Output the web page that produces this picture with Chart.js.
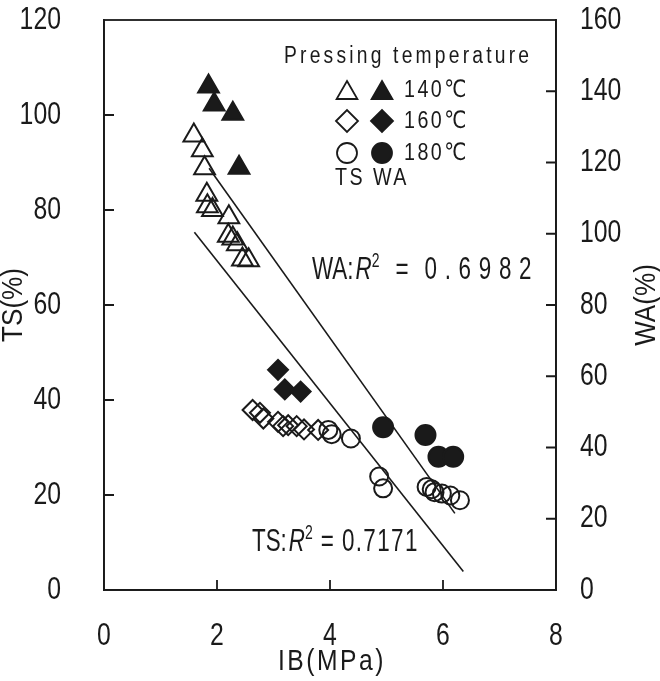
<!DOCTYPE html>
<html>
<head>
<meta charset="utf-8">
<script src="https://cdn.jsdelivr.net/npm/chart.js@4.4.0/dist/chart.umd.min.js"></script>
<style>
  html, body { margin: 0; padding: 0; background: #fff; }
</style>
</head>
<body>
<canvas id="chart_ib" width="660" height="681"></canvas>
<script>
// IB vs TS / WA scatter, three pressing temperatures

// 140°C
var tri_ts_ib = [1.59, 1.74, 1.78, 1.82, 1.83, 1.92, 2.21, 2.20, 2.28, 2.36, 2.45, 2.56];
var tri_ts    = [95.7, 92.6, 88.8, 83.2, 80.8, 80.0, 78.5, 74.6, 74.0, 72.8, 69.6, 69.4];
var tri_wa_ib = [1.85, 1.95, 2.28, 2.39];
var tri_wa    = [141.3, 136.3, 133.7, 118.5];

// 160°C
var dia_ts_ib = [2.63, 2.76, 2.82, 3.08, 3.17, 3.26, 3.41, 3.54, 3.79];
var dia_ts    = [37.9, 37.3, 36.1, 35.4, 34.5, 34.7, 34.5, 33.8, 33.7];
var dia_wa_ib = [3.08, 3.20, 3.48];
var dia_wa    = [61.8, 56.3, 55.7];

// 180°C
var cir_ts_ib = [3.97, 4.03, 4.37, 4.87, 4.94, 5.71, 5.80, 5.85, 5.98, 6.13, 6.30];
var cir_ts    = [33.7, 32.8, 31.9, 23.9, 21.4, 21.7, 21.2, 20.6, 20.3, 19.9, 18.9];
var cir_wa_ib = [4.94, 5.69, 5.92, 6.18];
var cir_wa    = [45.7, 43.5, 37.4, 37.4];

// regression line end points (IB, value)
var ts_fit_ib = [1.60, 6.36];
var ts_fit    = [75.3, 3.9];
var wa_fit_ib = [1.86, 6.21];
var wa_fit    = [118.4, 21.5];

var x_ticks  = [0, 2, 4, 6, 8];
var ts_ticks = [0, 20, 40, 60, 80, 100, 120];
var wa_ticks = [0, 20, 40, 60, 80, 100, 120, 140, 160];

var FONT = "'Liberation Sans', Arial, 'DejaVu Sans', sans-serif";
var INK = '#1a1a1a';

function pts(xs, ys) {
    return xs.map(function(v, i) { return { x: v, y: ys[i] }; });
}

function marker(label, xs, ys, axis, style, r, filled) {
    return {
        label: label,
        data: pts(xs, ys),
        yAxisID: axis,
        pointStyle: style,
        pointRadius: r,
        pointBorderWidth: 2,
        pointBorderColor: INK,
        pointBackgroundColor: filled ? INK : 'rgba(255,255,255,0)',
        showLine: false
    };
}

function fitLine(label, xs, ys, axis) {
    return {
        label: label,
        data: pts(xs, ys),
        yAxisID: axis,
        showLine: true,
        borderColor: INK,
        borderWidth: 1.6,
        pointRadius: 0,
        fill: false
    };
}

// keep the plot box fixed, no extra room for end labels
function fixBox(w, h) {
    return function(s) {
        if (w) s.width = w;
        if (h) s.height = h;
        s.paddingTop = 0; s.paddingBottom = 0;
        s.paddingLeft = 0; s.paddingRight = 0;
    };
}

// narrow text: glyphs squeezed horizontally, returns drawn width
function txt(ctx, s, x, y, o) {
    var sx = o.sx || 1;
    ctx.save();
    ctx.translate(x, y);
    if (o.rot) ctx.rotate(o.rot);
    ctx.scale(sx, 1);
    ctx.font = (o.style ? o.style + ' ' : '') + o.size + 'px ' + FONT;
    ctx.letterSpacing = (o.ls || 0) + 'px';
    ctx.textAlign = o.align || 'left';
    ctx.textBaseline = 'middle';
    ctx.fillText(s, 0, 0);
    var w = ctx.measureText(s).width * sx;
    ctx.restore();
    return w;
}

// "XX:R² = value" label, left edge at x
function drawR2(ctx, prefix, value, x, y, gap, ls) {
    var parts = [
        { s: prefix, size: 32, gap: 2 },
        { s: 'R', size: 32, style: 'italic', gap: 0 },
        { s: '2', size: 20, gap: gap, dy: -9 },
        { s: '=', size: 32, gap: gap },
        { s: value, size: 32, gap: 0, ls: ls }
    ];
    parts.forEach(function(p) {
        var w = txt(ctx, p.s, x, y + (p.dy || 0), { size: p.size, style: p.style, sx: 0.7, ls: p.ls });
        x += w + p.gap;
    });
}

// frame, inward tick marks, tick labels, titles, legend and R² labels
var decor = {
    id: 'decor',
    afterDraw: function(chart) {
        var ctx = chart.ctx;
        var a = chart.chartArea;
        var sx = chart.scales.x, sy = chart.scales.y, sy2 = chart.scales.y2;
        ctx.save();
        ctx.strokeStyle = INK;
        ctx.lineWidth = 1.8;
        ctx.strokeRect(a.left, a.top, a.right - a.left, a.bottom - a.top);

        ctx.beginPath();
        x_ticks.slice(1, -1).forEach(function(v) {
            var p = sx.getPixelForValue(v);
            ctx.moveTo(p, a.bottom); ctx.lineTo(p, a.bottom - 10);
        });
        ts_ticks.slice(1, -1).forEach(function(v) {
            var p = sy.getPixelForValue(v);
            ctx.moveTo(a.left, p); ctx.lineTo(a.left + 10, p);
        });
        wa_ticks.slice(1, -1).forEach(function(v) {
            var p = sy2.getPixelForValue(v);
            ctx.moveTo(a.right, p); ctx.lineTo(a.right - 10, p);
        });
        ctx.stroke();

        ctx.fillStyle = INK;

        // tick labels
        var tk = { size: 31, sx: 0.8 };
        x_ticks.forEach(function(v) {
            txt(ctx, String(v), sx.getPixelForValue(v), 636, { size: tk.size, sx: tk.sx, align: 'center' });
        });
        ts_ticks.forEach(function(v) {
            txt(ctx, String(v), 61, sy.getPixelForValue(v), { size: tk.size, sx: tk.sx, align: 'right' });
        });
        wa_ticks.forEach(function(v) {
            txt(ctx, String(v), 580, sy2.getPixelForValue(v), { size: tk.size, sx: tk.sx, align: 'left' });
        });

        // axis titles
        txt(ctx, 'TS(%)', 14, 305, { size: 29, sx: 0.9, align: 'center', rot: -Math.PI / 2 });
        txt(ctx, 'WA(%)', 647, 305, { size: 29, sx: 0.9, align: 'center', rot: -Math.PI / 2 });
        txt(ctx, 'IB(MPa)', 332, 662, { size: 29, sx: 0.85, ls: 3, align: 'center' });

        // legend
        txt(ctx, 'Pressing temperature', 284, 57, { size: 23.5, sx: 0.82, ls: 3.9 });
        var rows = [
            { y: 90,  style: 'triangle', r: 12, text: '140\u2103' },
            { y: 121, style: 'rectRot',  r: 11, text: '160\u2103' },
            { y: 153, style: 'circle',   r: 10, text: '180\u2103' }
        ];
        rows.forEach(function(row) {
            var opt = { pointStyle: row.style, radius: row.r, borderWidth: 1.8, rotation: 0 };
            var dy = row.style === 'triangle' ? 3 : 0;
            ctx.lineWidth = 1.8;
            ctx.fillStyle = '#fff';
            Chart.helpers.drawPoint(ctx, opt, 347, row.y + dy);
            ctx.fillStyle = INK;
            Chart.helpers.drawPoint(ctx, opt, 382, row.y + dy);
            txt(ctx, row.text, 404, row.y, { size: 24, sx: 0.82, ls: 3 });
        });
        txt(ctx, 'TS', 335, 178, { size: 24, sx: 0.82, ls: 3 });
        txt(ctx, 'WA', 373, 178, { size: 24, sx: 0.82, ls: 3 });

        // R² labels
        drawR2(ctx, 'WA:', '0.6982', 312, 270, 16, 11);
        drawR2(ctx, 'TS:', '0.7171', 252, 542, 8, 2);
        ctx.restore();
    }
};

var ctxIB = document.getElementById('chart_ib').getContext('2d');
var chartIB = new Chart(ctxIB, {
    type: 'scatter',
    data: {
        datasets: [
            fitLine('TS fit', ts_fit_ib, ts_fit, 'y'),
            fitLine('WA fit', wa_fit_ib, wa_fit, 'y2'),
            marker('TS 140', tri_ts_ib, tri_ts, 'y', 'triangle', 12, false),
            marker('WA 140', tri_wa_ib, tri_wa, 'y2', 'triangle', 12, true),
            marker('TS 160', dia_ts_ib, dia_ts, 'y', 'rectRot', 10, false),
            marker('WA 160', dia_wa_ib, dia_wa, 'y2', 'rectRot', 10, true),
            marker('TS 180', cir_ts_ib, cir_ts, 'y', 'circle', 9, false),
            marker('WA 180', cir_wa_ib, cir_wa, 'y2', 'circle', 10, true)
        ]
    },
    options: {
        responsive: false,
        animation: false,
        layout: { padding: { top: 20, left: 0, right: 0, bottom: 0 } },
        plugins: {
            legend: { display: false },
            tooltip: { enabled: false }
        },
        scales: {
            x: {
                type: 'linear',
                min: 0, max: 8,
                afterBuildTicks: function(s) { s.ticks = x_ticks.map(function(v) { return { value: v }; }); },
                afterFit: fixBox(0, 91),
                ticks: { display: false },
                grid: { drawOnChartArea: false, drawTicks: false },
                border: { color: INK, width: 1.8 }
            },
            y: {
                position: 'left',
                min: 0, max: 120,
                afterBuildTicks: function(s) { s.ticks = ts_ticks.map(function(v) { return { value: v }; }); },
                afterFit: fixBox(104, 0),
                ticks: { display: false },
                grid: { drawOnChartArea: false, drawTicks: false },
                border: { color: INK, width: 1.8 }
            },
            y2: {
                position: 'right',
                min: 0, max: 160,
                afterBuildTicks: function(s) { s.ticks = wa_ticks.map(function(v) { return { value: v }; }); },
                afterFit: fixBox(104, 0),
                ticks: { display: false },
                grid: { drawOnChartArea: false, drawTicks: false },
                border: { color: INK, width: 1.8 }
            }
        }
    },
    plugins: [decor]
});
</script>
</body>
</html>
